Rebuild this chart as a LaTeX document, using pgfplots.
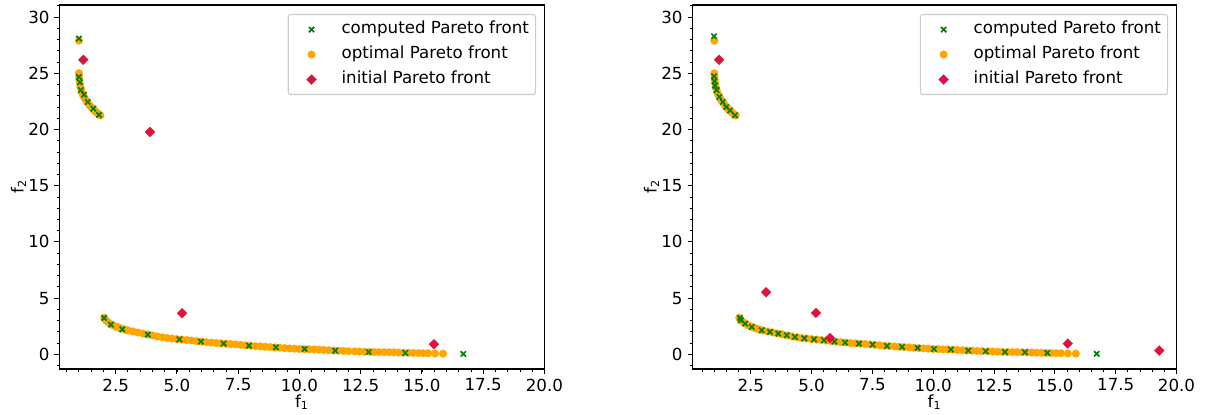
\documentclass[border=0pt]{standalone}
\usepackage{fontspec}
\setmainfont{DejaVu Sans}
\usepackage{pgfplots}
\usepackage{pgfplotstable}
\pgfplotsset{compat=1.18}
\definecolor{mgreen}{HTML}{008000}
\definecolor{morange}{HTML}{FFA500}
\definecolor{mcrimson}{HTML}{DC143C}

% optimal Pareto front (same in both panels)
\pgfplotstableread{
x y
1.00 27.9
1.00 25.0
1.01 24.7
1.02 24.4
1.04 24.1
1.06 23.8
1.09 23.55
1.12 23.3
1.16 23.1
1.21 22.9
1.26 22.7
1.31 22.55
1.36 22.4
1.42 22.2
1.48 22.05
1.54 21.9
1.60 21.75
1.67 21.6
1.74 21.5
1.81 21.35
1.88 21.25
2.03 3.25
2.10 3.02
2.20 2.84
2.30 2.70
2.40 2.57
2.50 2.47
2.60 2.39
2.70 2.31
2.80 2.24
2.90 2.17
3.00 2.12
3.20 2.03
3.40 1.94
3.60 1.85
3.80 1.77
4.00 1.68
4.20 1.59
4.40 1.51
4.60 1.45
4.80 1.40
5.00 1.35
5.20 1.31
5.40 1.27
5.60 1.22
5.80 1.17
6.00 1.12
6.20 1.08
6.40 1.04
6.60 1.00
6.80 0.97
7.00 0.94
7.20 0.91
7.40 0.88
7.60 0.84
7.80 0.80
8.00 0.76
8.20 0.73
8.40 0.70
8.60 0.67
8.80 0.64
9.00 0.61
9.20 0.58
9.40 0.55
9.60 0.52
9.80 0.50
10.00 0.47
10.20 0.46
10.40 0.44
10.60 0.43
10.80 0.41
11.00 0.38
11.20 0.36
11.40 0.33
11.60 0.32
11.80 0.30
12.00 0.28
12.25 0.26
12.45 0.24
12.65 0.22
12.85 0.21
13.05 0.20
13.25 0.19
13.45 0.19
13.65 0.18
13.85 0.17
14.05 0.15
14.25 0.14
14.45 0.13
14.65 0.12
14.85 0.11
15.05 0.10
15.25 0.09
15.53 0.07
15.86 0.06
}\optimal

% computed Pareto front, left panel
\pgfplotstableread{
x y
1.00 28.09
1.00 24.67
1.04 24.20
1.08 23.50
1.21 23.10
1.36 22.45
1.59 21.86
1.82 21.30
2.03 3.23
2.31 2.64
2.77 2.22
3.81 1.75
5.10 1.33
5.98 1.13
6.91 0.95
7.94 0.77
9.04 0.62
10.21 0.47
11.46 0.32
12.83 0.20
14.32 0.12
16.69 0.03
}\computedA

% initial Pareto front, left panel
\pgfplotstableread{
x y
1.18 26.2
3.90 19.78
5.21 3.65
15.49 0.89
}\initialA

% computed Pareto front, right panel
\pgfplotstableread{
x y
0.99 28.30
0.99 24.73
1.01 24.30
1.03 23.90
1.10 23.50
1.21 22.90
1.35 22.45
1.49 22.00
1.65 21.70
1.85 21.26
2.06 3.23
2.09 3.02
2.27 2.73
2.54 2.43
2.95 2.14
3.29 1.99
3.63 1.84
3.98 1.69
4.32 1.54
4.70 1.42
5.10 1.33
5.51 1.25
5.94 1.13
6.38 1.04
6.95 0.95
7.51 0.86
8.10 0.74
8.72 0.65
9.36 0.56
10.03 0.47
10.73 0.42
11.44 0.33
12.16 0.27
12.95 0.20
13.77 0.18
14.69 0.12
16.72 0.04
}\computedB

% initial Pareto front, right panel
\pgfplotstableread{
x y
1.20 26.2
3.13 5.52
5.18 3.68
5.76 1.45
15.53 0.95
19.29 0.33
}\initialB

\pgfplotsset{
  paretoaxis/.style={
    scale only axis, width=349.3pt, height=262.1pt,
    xmax=20, ymin=-1.31, ymax=31.08,
    xtick={2.5,5,7.5,10,12.5,15,17.5,20},
    xticklabels={2.5,5.0,7.5,10.0,12.5,15.0,17.5,20.0},
    ytick={0,5,10,15,20,25,30},
    minor xtick={0.5,1,...,20},
    minor ytick={-1,0,...,31},
    tick pos=left, tick align=outside,
    major tick length=3.5pt, minor tick length=2pt,
    every tick/.style={black, line width=0.8pt},
    minor tick style={line width=0.6pt},
    axis line style={line width=0.8pt},
    /pgf/number format/assume math mode=true,
    tick label style={font=\fontsize{12}{14}\selectfont},
    label style={font=\fontsize{12}{14}\selectfont},
    xlabel={f\textsubscript{1}}, ylabel={f\textsubscript{2}},
    xlabel style={at={([yshift=-24pt]axis description cs:0.5,0)}, anchor=center},
    ylabel style={at={([xshift=-29.4pt]axis description cs:0,0.5)}, anchor=center},
    legend cell align=left,
    legend image code/.code={%
      \path[draw=none, fill=none] (0pt,-4pt) rectangle (24pt,4pt);
      \draw[sharp corners, fill opacity=1, draw opacity=1, #1] plot coordinates {(12pt,0pt)};},
    legend style={at={(1,1)}, anchor=north east, xshift=-6pt, yshift=-6.5pt,
      draw=black!20, line width=0.8pt, rounded corners=2pt,
      fill=white, fill opacity=0.8, text opacity=1,
      inner xsep=4.8pt, inner ysep=4.8pt, row sep=6pt,
      font=\fontsize{12}{14}\selectfont,
      nodes={inner sep=0pt, text height=9pt, text depth=3pt},
      /tikz/every odd column/.append style={column sep=9.6pt}},
  },
  compstyle/.style={only marks, mark=x, mark size=2.7pt, color=mgreen, line width=1.2pt},
  optstyle/.style={only marks, mark=*, mark size=2.8pt, color=morange, line width=0.1pt},
  initstyle/.style={only marks, mark=square*, mark size=2.55pt, color=mcrimson, line width=0.1pt, mark options={rotate=45}},
}

\begin{document}
\begin{tikzpicture}
\useasboundingbox (0,0) rectangle (867.6pt,298.08pt);
\begin{axis}[paretoaxis, at={(42.7pt,32.4pt)}, anchor=south west, xmin=0.2]
\addlegendimage{compstyle}\addlegendentry{computed Pareto front}
\addlegendimage{optstyle}\addlegendentry{optimal Pareto front}
\addlegendimage{initstyle}\addlegendentry{initial Pareto front}
\addplot[optstyle, forget plot] table {\optimal};
\addplot[compstyle, forget plot] table {\computedA};
\addplot[initstyle, forget plot] table {\initialA};
\end{axis}
\begin{axis}[paretoaxis, at={(498.5pt,32.4pt)}, anchor=south west, xmin=0.1, width=348.6pt]
\addlegendimage{compstyle}\addlegendentry{computed Pareto front}
\addlegendimage{optstyle}\addlegendentry{optimal Pareto front}
\addlegendimage{initstyle}\addlegendentry{initial Pareto front}
\addplot[optstyle, forget plot] table {\optimal};
\addplot[compstyle, forget plot] table {\computedB};
\addplot[initstyle, forget plot] table {\initialB};
\end{axis}
\end{tikzpicture}
\end{document}
